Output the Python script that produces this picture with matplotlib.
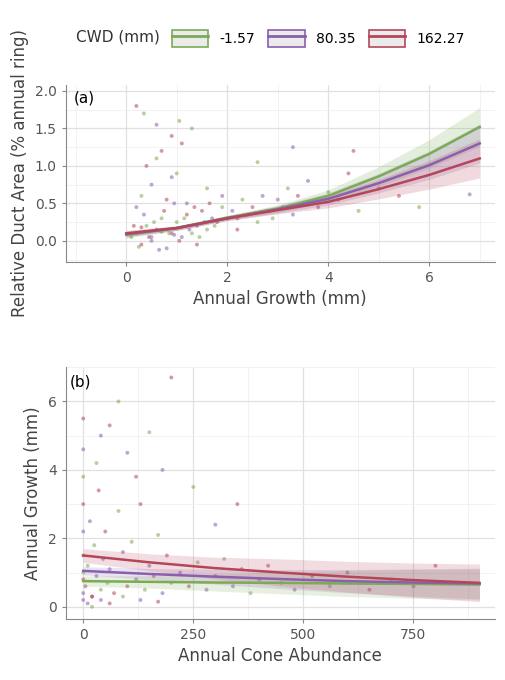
import matplotlib
matplotlib.use("Agg")
import matplotlib.pyplot as plt
from matplotlib.lines import Line2D
from matplotlib.patches import Patch
from matplotlib.ticker import AutoMinorLocator
from matplotlib.legend_handler import HandlerTuple

cwd_labels = ["-1.57", "80.35", "162.27"]
colors = ["#7bab55", "#8a5fae", "#b5465a"]

a_x = [0, 1, 2, 3, 4, 5, 6, 7]
a_fit = [[0.08, 0.17, 0.31, 0.43, 0.60, 0.86, 1.16, 1.52],
         [0.09, 0.17, 0.30, 0.42, 0.56, 0.77, 1.01, 1.30],
         [0.10, 0.17, 0.30, 0.41, 0.52, 0.69, 0.88, 1.10]]
a_half = [0.04, 0.03, 0.03, 0.05, 0.08, 0.13, 0.19, 0.26]

b_x = [0, 150, 300, 450, 600, 750, 900]
b_fit = [[0.75, 0.73, 0.71, 0.70, 0.68, 0.67, 0.65],
         [1.05, 0.96, 0.88, 0.81, 0.75, 0.71, 0.68],
         [1.50, 1.30, 1.13, 1.00, 0.88, 0.78, 0.70]]
b_half = [[0.15, 0.18, 0.25, 0.32, 0.38, 0.42, 0.45],
          [0.12, 0.16, 0.22, 0.28, 0.34, 0.40, 0.45],
          [0.20, 0.25, 0.32, 0.40, 0.45, 0.50, 0.55]]

a_pts_x = [0.1,0.2,0.3,0.4,0.5,0.6,0.7,0.8,0.9,1.0,1.1,1.2,1.3,1.4,1.5,1.6,1.7,1.8,1.9,2.0,
           0.15,0.25,0.35,0.45,0.55,0.65,0.75,0.85,0.95,1.05,1.15,1.25,1.35,1.45,1.55,1.65,1.75,2.1,2.2,2.3,
           2.4,2.5,2.6,2.7,2.8,2.9,3.0,3.1,3.2,3.3,3.4,3.5,3.6,3.8,4.0,4.2,4.4,4.6,5.0,5.4,
           0.3,0.5,0.8,1.0,1.2,0.4,0.6,0.9,1.1,1.3,0.2,0.7,1.6,1.9,2.2,2.6,3.3,4.5,5.8,6.8,
           0.2,0.35,0.6,0.9,1.05,0.5,1.4,0.7,0.95,0.3]
a_pts_y = [0.05,0.1,-0.05,0.2,0.0,0.15,0.3,-0.1,0.1,0.25,0.05,0.35,0.1,0.2,0.4,0.15,0.3,0.25,0.45,0.3,
           0.2,-0.08,0.35,0.05,0.25,-0.12,0.4,0.1,0.5,0.0,0.3,0.15,0.45,0.05,0.25,0.5,0.2,0.4,0.3,0.55,
           0.35,0.45,0.25,0.6,0.4,0.3,0.55,0.45,0.7,0.35,0.6,0.5,0.8,0.45,0.65,0.55,0.9,0.4,0.7,0.6,
           0.6,0.75,0.55,0.9,0.5,1.0,1.1,0.85,1.3,1.5,0.45,1.2,0.7,0.6,0.15,1.05,1.25,1.2,0.45,0.62,
           1.8,1.7,1.55,1.4,1.6,0.05,-0.05,0.12,0.08,0.18]
b_pts_x = [0,0,0,0,0,0,0,0,0,0,5,10,15,20,25,30,35,40,45,50,
           55,60,70,80,90,100,110,120,130,140,150,160,170,180,190,200,220,240,260,280,
           300,320,340,360,380,400,420,450,480,520,560,600,650,700,750,800,850,
           10,20,30,40,60,80,100,120,150,180,200,250,300,350,20,40,60,90,130,170]
b_pts_y = [0.2,0.8,1.5,2.2,3.0,3.8,4.6,5.5,1.0,0.4,0.6,1.2,2.5,0.3,1.8,0.9,3.4,0.5,1.4,2.2,
           0.7,1.1,0.4,2.8,1.6,0.6,1.9,0.8,3.0,0.5,1.2,0.9,2.1,0.4,1.5,0.7,1.0,0.6,1.3,0.5,
           0.9,1.4,0.6,1.1,0.4,0.8,1.2,0.7,0.5,0.9,0.6,1.0,0.5,0.8,0.6,1.2,0.7,
           0.1,0.3,4.2,5.0,5.3,6.0,4.5,3.8,5.1,4.0,6.7,3.5,2.4,3.0,0.0,0.2,0.1,0.3,0.2,0.15]

fig = plt.figure(figsize=(5.05, 6.8), dpi=100)
ax1 = fig.add_axes([0.13, 0.615, 0.85, 0.26])
ax2 = fig.add_axes([0.13, 0.09, 0.85, 0.37])

for ax in (ax1, ax2):
    ax.set_facecolor("white")
    ax.xaxis.set_minor_locator(AutoMinorLocator(2))
    ax.yaxis.set_minor_locator(AutoMinorLocator(2))
    ax.grid(True, which="major", color="#e0e0e0", lw=0.9)
    ax.grid(True, which="minor", color="#f0f0f0", lw=0.6)
    ax.tick_params(which="minor", length=0)
    ax.tick_params(which="major", length=3, color="#888888", labelsize=10, labelcolor="#555555")
    for s in ("top", "right"):
        ax.spines[s].set_visible(False)
    for s in ("left", "bottom"):
        ax.spines[s].set_color("#888888")
        ax.spines[s].set_linewidth(0.8)
    ax.set_axisbelow(True)

n = len(a_pts_x)
ax1.scatter(a_pts_x, a_pts_y, s=8, c=[colors[i % 3] for i in range(n)], alpha=0.55, lw=0)
for i in range(3):
    lo = [f - h for f, h in zip(a_fit[i], a_half)]
    hi = [f + h for f, h in zip(a_fit[i], a_half)]
    ax1.fill_between(a_x, lo, hi, color=colors[i], alpha=0.2, lw=0)
    ax1.plot(a_x, a_fit[i], color=colors[i], lw=1.8)
ax1.set_xlim(-1.2, 7.3)
ax1.set_ylim(-0.28, 2.08)
ax1.set_xticks([0, 2, 4, 6])
ax1.set_yticks([0, 0.5, 1.0, 1.5, 2.0])
ax1.set_yticklabels(["0.0", "0.5", "1.0", "1.5", "2.0"])
ax1.set_xlabel("Annual Growth (mm)", fontsize=12, color="#444444")
ax1.set_ylabel("Relative Duct Area (% annual ring)", fontsize=12, color="#444444")
ax1.text(0.02, 0.97, "(a)", transform=ax1.transAxes, va="top", fontsize=11)

m = len(b_pts_x)
ax2.scatter(b_pts_x, b_pts_y, s=8, c=[colors[(i + 1) % 3] for i in range(m)], alpha=0.55, lw=0)
for i in range(3):
    lo = [f - h for f, h in zip(b_fit[i], b_half[i])]
    hi = [f + h for f, h in zip(b_fit[i], b_half[i])]
    ax2.fill_between(b_x, lo, hi, color=colors[i], alpha=0.18, lw=0)
    ax2.plot(b_x, b_fit[i], color=colors[i], lw=1.8)
ax2.set_xlim(-40, 935)
ax2.set_ylim(-0.35, 7.0)
ax2.set_xticks([0, 250, 500, 750])
ax2.set_yticks([0, 2, 4, 6])
ax2.set_xlabel("Annual Cone Abundance", fontsize=12, color="#444444")
ax2.set_ylabel("Annual Growth (mm)", fontsize=12, color="#444444")
ax2.text(0.01, 0.97, "(b)", transform=ax2.transAxes, va="top", fontsize=11)

handles = [(Patch(facecolor="#ebebeb", edgecolor=c, lw=1.2), Line2D([], [], color=c, lw=2))
           for c in colors]
leg = fig.legend(handles, cwd_labels, handler_map={tuple: HandlerTuple(ndivide=1)},
                 loc="upper center", bbox_to_anchor=(0.63, 0.975), ncol=3, frameon=False,
                 fontsize=10, handlelength=2.6, handleheight=1.6, columnspacing=1.0)
fig.text(0.15, 0.945, "CWD (mm)", fontsize=11, color="#333333", va="center")
fig.savefig("out.png", dpi=100, facecolor="white")
